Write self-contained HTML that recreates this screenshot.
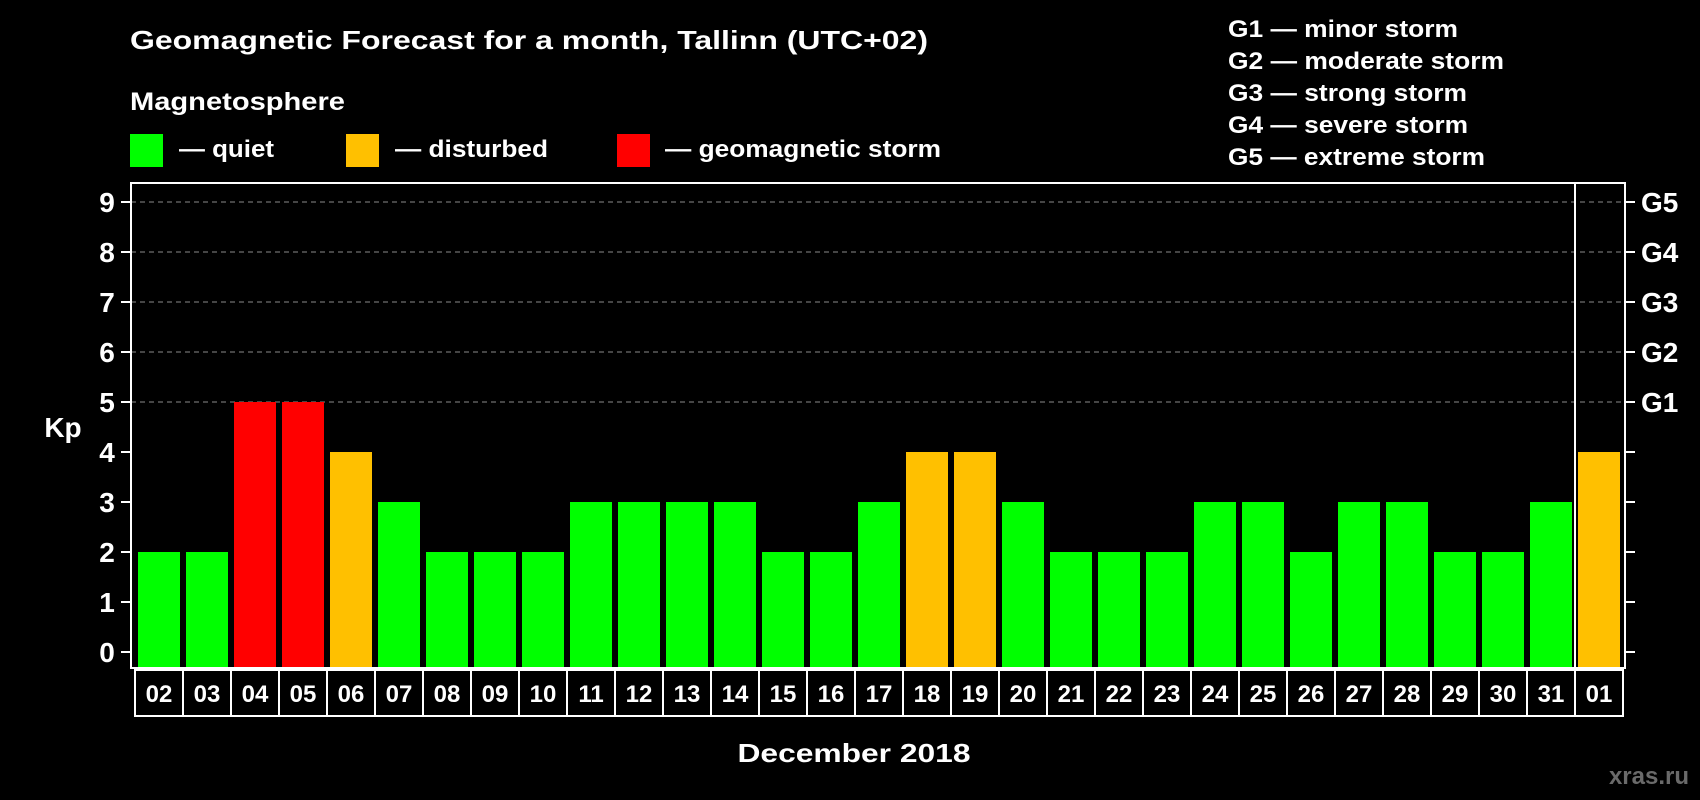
<!DOCTYPE html>
<html><head><meta charset="utf-8"><style>
html,body{margin:0;padding:0;background:#000;}
svg{display:block;font-family:"Liberation Sans",Arial,sans-serif;font-weight:bold;}
</style></head><body>
<svg id="chart" width="1700" height="800" viewBox="0 0 1700 800">
<rect width="1700" height="800" fill="#000"/>
<text x="130" y="49" font-size="26" fill="#fff" textLength="798" lengthAdjust="spacingAndGlyphs">Geomagnetic Forecast for a month, Tallinn (UTC+02)</text>
<text x="130" y="110" font-size="25" fill="#fff" textLength="215" lengthAdjust="spacingAndGlyphs">Magnetosphere</text>
<g>
<rect x="130" y="134" width="33" height="33" fill="#00ff00"/>
<text x="179" y="157" font-size="24" fill="#fff" textLength="95" lengthAdjust="spacingAndGlyphs">— quiet</text>
</g>
<g>
<rect x="346" y="134" width="33" height="33" fill="#ffc000"/>
<text x="395" y="157" font-size="24" fill="#fff" textLength="153" lengthAdjust="spacingAndGlyphs">— disturbed</text>
</g>
<g>
<rect x="617" y="134" width="33" height="33" fill="#ff0000"/>
<text x="665" y="157" font-size="24" fill="#fff" textLength="276" lengthAdjust="spacingAndGlyphs">— geomagnetic storm</text>
</g>
<g>
<text x="1228" y="37" font-size="24" fill="#fff" textLength="230" lengthAdjust="spacingAndGlyphs">G1 — minor storm</text>
<text x="1228" y="69" font-size="24" fill="#fff" textLength="276" lengthAdjust="spacingAndGlyphs">G2 — moderate storm</text>
<text x="1228" y="101" font-size="24" fill="#fff" textLength="239" lengthAdjust="spacingAndGlyphs">G3 — strong storm</text>
<text x="1228" y="133" font-size="24" fill="#fff" textLength="240" lengthAdjust="spacingAndGlyphs">G4 — severe storm</text>
<text x="1228" y="165" font-size="24" fill="#fff" textLength="257" lengthAdjust="spacingAndGlyphs">G5 — extreme storm</text>
</g>
<g id="plot"></g>
<text x="63" y="437" font-size="28" fill="#fff" text-anchor="middle">Kp</text>
<text x="854" y="762" font-size="26" fill="#fff" text-anchor="middle" textLength="233" lengthAdjust="spacingAndGlyphs">December 2018</text>
<text x="1689" y="784" font-size="24" fill="#6a6a6a" text-anchor="end">xras.ru</text>
</svg>
<script>
const days = ["02","03","04","05","06","07","08","09","10","11","12","13","14","15","16","17","18","19","20","21","22","23","24","25","26","27","28","29","30","31","01"];
const kpValues = [2,2,5,5,4,3,2,2,2,3,3,3,3,2,2,3,4,4,3,2,2,2,3,3,2,3,3,2,2,3,4];
const yTicks = [0,1,2,3,4,5,6,7,8,9];
const gLabels = ["G1","G2","G3","G4","G5"];
const gLevels = [5,6,7,8,9];

const NS = "http://www.w3.org/2000/svg";
const plot = document.getElementById("plot");
const X0 = 138, STEP = 48, BW = 42;
const Y0 = 652, UNIT = 50;
const FL = 131, FR = 1625, FT = 183, FB = 668;
function xScale(i){ return X0 + i*STEP; }
function yScale(v){ return Y0 - v*UNIT; }
function mk(tag, attrs){ const e = document.createElementNS(NS, tag); for (const k in attrs) e.setAttribute(k, attrs[k]); plot.appendChild(e); return e; }
function colorFor(v){ return v >= 5 ? "#ff0000" : (v >= 4 ? "#ffc000" : "#00ff00"); }

// gridlines
gLevels.forEach(function(v, i){
  const l = mk("line", {x1: FL, x2: FR, y1: yScale(v), y2: yScale(v), stroke: "#8a8a8a", "stroke-width": 1, "stroke-dasharray": "5 4"});
  
  
});
// bars
kpValues.forEach(function(v, i){
  const r = mk("rect", {x: xScale(i), y: yScale(v), width: BW, height: FB - yScale(v), fill: colorFor(v)});
  
  
});
// frame
const fr = mk("rect", {x: FL, y: FT, width: FR - FL, height: FB - FT, fill: "none", stroke: "#fff", "stroke-width": 2});


const sep = mk("line", {x1: 1575, x2: 1575, y1: FT, y2: FB, stroke: "#fff", "stroke-width": 2});


// y ticks and labels
yTicks.forEach(function(v){
  const t = mk("line", {x1: 121, x2: FL, y1: yScale(v), y2: yScale(v), stroke: "#fff", "stroke-width": 2});
  
  
  const t2 = mk("line", {x1: FR, x2: 1635, y1: yScale(v), y2: yScale(v), stroke: "#fff", "stroke-width": 2});
  
  
  const tx = mk("text", {x: 107, y: yScale(v) + 10, "font-size": 28, fill: "#fff", "text-anchor": "middle"});
  tx.textContent = String(v);
  
  
});
gLabels.forEach(function(g, i){
  const tx = mk("text", {x: 1641, y: yScale(gLevels[i]) + 10, "font-size": 28, fill: "#fff"});
  tx.textContent = g;
  
  
});
// day label boxes
days.forEach(function(d, i){
  const bx = mk("rect", {x: 135 + i*STEP, y: 670, width: STEP, height: 46, fill: "none", stroke: "#fff", "stroke-width": 2});
  
  
  const tx = mk("text", {x: 135 + i*STEP + STEP/2, y: 702, "font-size": 24, fill: "#fff", "text-anchor": "middle"});
  tx.textContent = d;
  
  
});
</script>
</body></html>
